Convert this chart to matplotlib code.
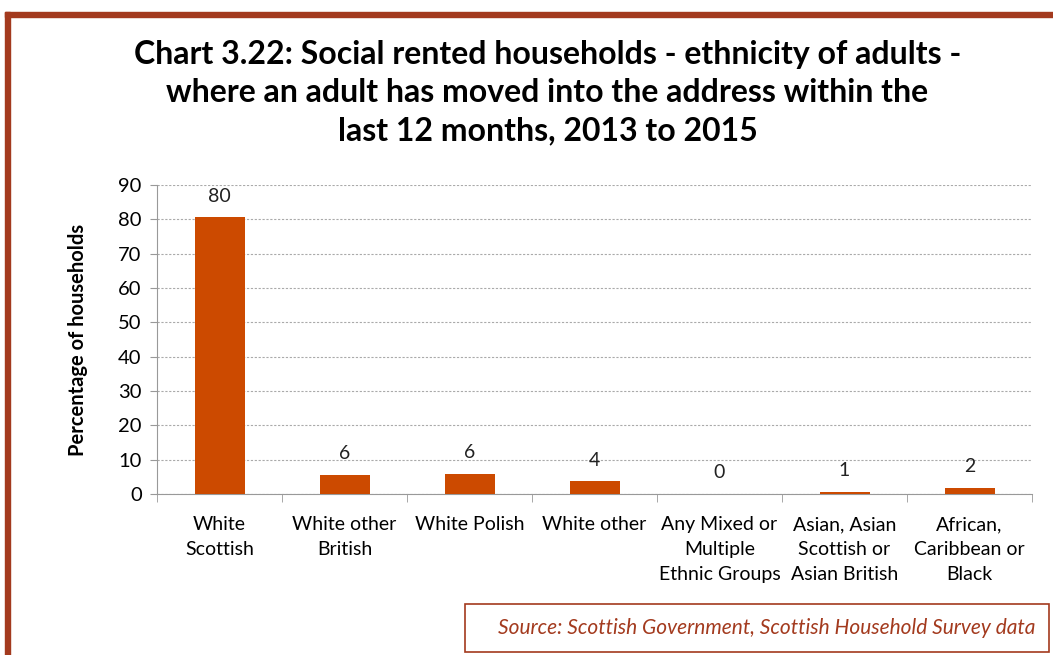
import matplotlib
matplotlib.use("Agg")
import matplotlib.pyplot as plt
from matplotlib.patches import Rectangle
import numpy as np

categories = ["White\nScottish", "White other\nBritish", "White Polish", "White other",
              "Any Mixed or\nMultiple\nEthnic Groups", "Asian, Asian\nScottish or\nAsian British",
              "African,\nCaribbean or\nBlack"]
values = [80.6, 5.6, 5.9, 3.7, 0.0, 0.6, 1.8]
value_labels = ["80", "6", "6", "4", "0", "1", "2"]
yticks = [0, 10, 20, 30, 40, 50, 60, 70, 80, 90]

plt.rcParams['font.family'] = ['Lato', 'DejaVu Sans']

W, H = 1053, 655
fig = plt.figure(figsize=(W/100, H/100), dpi=100)
fig.patch.set_facecolor("white")

# outer frame (cropped on right and bottom)
frame_col = "#A33A1E"
fig.patches.append(Rectangle((5/W, -0.1), 5/W, 1.1 - 12/H, transform=fig.transFigure,
                             color=frame_col, zorder=0))
fig.patches.append(Rectangle((5/W, 1 - 17/H), 1.1, 5/H, transform=fig.transFigure,
                             color=frame_col, zorder=0))

ax = fig.add_axes([157/W, 1 - 494/H, (1032-157)/W, (494-185)/H])
x = np.arange(len(categories))
ax.bar(x, values, width=0.4, color="#CC4A00", zorder=3)
ax.set_xlim(-0.5, len(categories) - 0.5)
ax.set_ylim(0, 90)
ax.set_yticks(yticks)
ax.tick_params(axis='y', labelsize=14.5, length=5, color="#999999", pad=6)
ax.yaxis.grid(True, linestyle=(0, (2, 1.5)), color="#AAAAAA", linewidth=0.8, zorder=0)
ax.set_xticks(x)
ax.set_xticklabels(categories, fontsize=14, linespacing=1.55, va='top')
ax.tick_params(axis='x', length=0, pad=16)
ax.set_xticks(np.arange(-0.5, len(categories)), minor=True)
ax.tick_params(axis='x', which='minor', length=6, color="#999999")
for s in ["top", "right"]:
    ax.spines[s].set_visible(False)
for s in ["left", "bottom"]:
    ax.spines[s].set_color("#999999")
ax.set_ylabel("Percentage of households", fontsize=14.5, fontweight='bold', labelpad=22)

for xi, v, lab in zip(x, values, value_labels):
    ax.annotate(lab, (xi, v), xytext=(0, 9), textcoords="offset points",
                ha='center', va='bottom', fontsize=14, color="#222222")

fig.text(0.52, 1 - 93/H,
         "Chart 3.22: Social rented households - ethnicity of adults -\n"
         "where an adult has moved into the address within the\n"
         "last 12 months, 2013 to 2015",
         ha='center', va='center', fontsize=23, fontweight='bold', linespacing=1.38)

# source box
fig.patches.append(Rectangle((465/W, 1 - 652/H), (1049-465)/W, (652-604)/H,
                             transform=fig.transFigure, fill=False,
                             edgecolor=frame_col, linewidth=1.2))
fig.text(1035/W, 1 - 628/H, "Source: Scottish Government, Scottish Household Survey data",
         ha='right', va='center', fontsize=15, style='italic', color="#A33A1E")

fig.savefig("out.png", dpi=100)
